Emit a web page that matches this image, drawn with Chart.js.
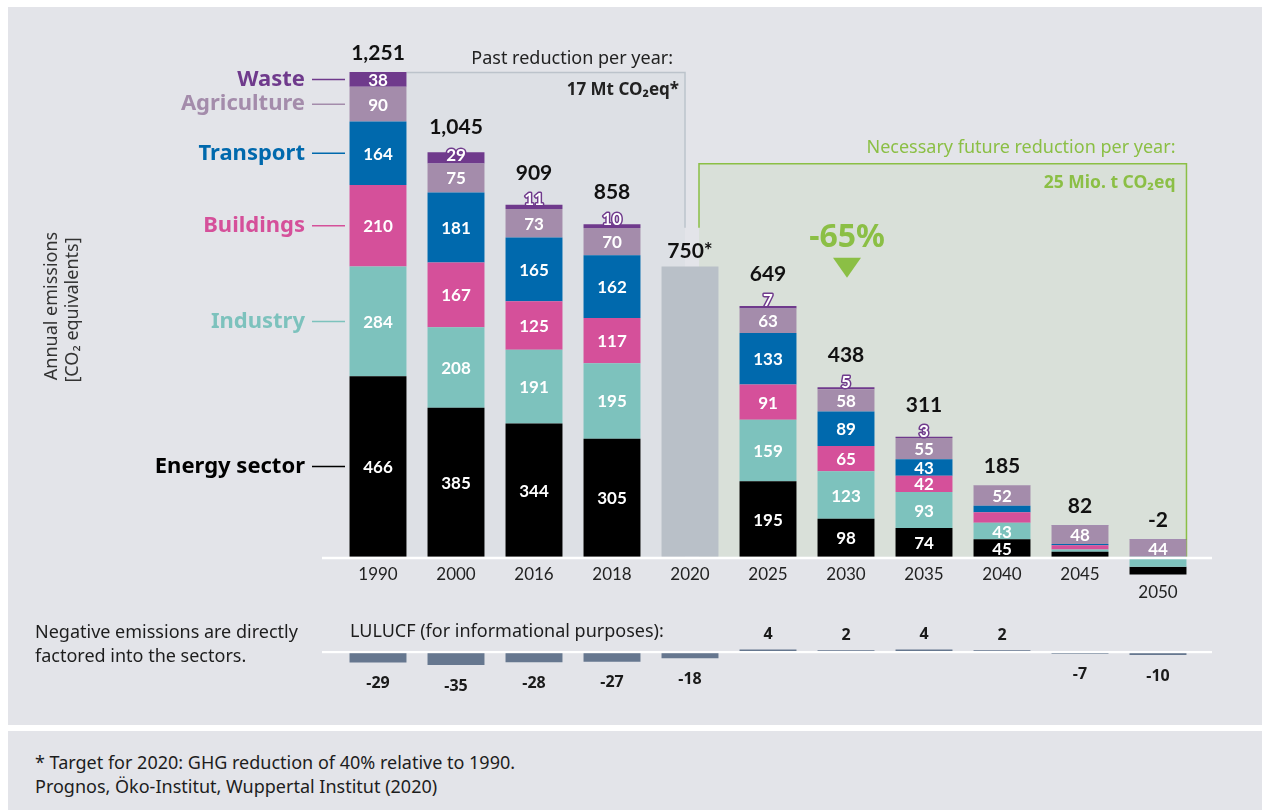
<!DOCTYPE html>
<html>
<head>
<meta charset="utf-8">
<script src="https://cdn.jsdelivr.net/npm/chart.js@4.4.1/dist/chart.umd.min.js"></script>
<style>
body { margin: 0; background: #fff; width: 1262px; height: 810px; overflow: hidden; font-family: "Noto Sans", sans-serif; color: #1d1d1d; }
.panel { position: absolute; left: 8px; right: 0; background: #e3e4e9; }
#mainPanel { top: 7px; height: 718px; }
#footPanel { top: 731px; height: 79px; }
canvas { position: absolute; left: 0; }
.txt { position: absolute; font-size: 18px; line-height: 24px; white-space: nowrap; }
</style>
</head>
<body>
<div class="panel" id="mainPanel"></div>
<div class="panel" id="footPanel"></div>
<canvas id="emissions" width="1262" height="620" style="top:0"></canvas>
<canvas id="lulucf" width="1262" height="110" style="top:600px"></canvas>
<div class="txt" style="left:35px;top:619px">Negative emissions are directly<br>factored into the sectors.</div>
<div class="txt" style="left:350px;top:618px">LULUCF (for informational purposes):</div>
<div class="txt" style="left:35px;top:750px">* Target for 2020: GHG reduction of 40% relative to 1990.<br>Prognos, Öko-Institut, Wuppertal Institut (2020)</div>

<script>
const years = ['1990', '2000', '2016', '2018', '2020', '2025', '2030', '2035', '2040', '2045', '2050'];
const energy      = [466, 385, 344, 305, null, 195, 98, 74, 45, 13, -20];
const industry    = [284, 208, 191, 195, null, 159, 123, 93, 43, 6, -26];
const buildings   = [210, 167, 125, 117, null, 91, 65, 42, 27, 11, 0];
const transport   = [164, 181, 165, 162, null, 133, 89, 43, 17, 3, 0];
const agriculture = [90, 75, 73, 70, null, 63, 58, 55, 52, 48, 44];
const waste       = [38, 29, 11, 10, null, 7, 5, 3, 1, 1, 1];
const target2020  = [null, null, null, null, 750, null, null, null, null, null, null];
const totals      = [1251, 1045, 909, 858, 750, 649, 438, 311, 185, 82, -2];
const lulucf      = [-29, -35, -28, -27, -18, 4, 2, 4, 2, -7, -10];

const GREEN = '#8bbf45';
const FONT = '"Noto Sans", sans-serif';
const NUM = 'Lato, sans-serif';

const sectors = [
    { key: 'energy', label: 'Energy sector', data: energy, color: '#000000' },
    { key: 'industry', label: 'Industry', data: industry, color: '#7dc2bd' },
    { key: 'buildings', label: 'Buildings', data: buildings, color: '#d5509a' },
    { key: 'transport', label: 'Transport', data: transport, color: '#0069ad' },
    { key: 'agriculture', label: 'Agriculture', data: agriculture, color: '#a48cab' },
    { key: 'waste', label: 'Waste', data: waste, color: '#6f3a8c' }
];

// negative parts stack downwards with industry next to the axis, so they go first in reverse order
const datasets = [];
sectors.slice().reverse().forEach(s => datasets.push({
    label: s.label, key: s.key, neg: true,
    data: s.data.map(v => (v !== null && v < 0) ? v : null),
    backgroundColor: s.color
}));
sectors.forEach(s => datasets.push({
    label: s.label, key: s.key,
    data: s.data.map(v => (v !== null && v >= 0) ? v : null),
    backgroundColor: s.color
}));
datasets.push({ label: 'Target 2020', key: 'target', data: target2020, backgroundColor: '#b9c0c8' });

function posMeta(chart, key) {
    const i = chart.data.datasets.findIndex(d => d.key === key && !d.neg);
    return chart.getDatasetMeta(i);
}

const boxesPlugin = {
    id: 'boxes',
    beforeDatasetsDraw(chart) {
        const { ctx, scales: { x, y } } = chart;
        const zero = y.getPixelForValue(0);
        const halfW = posMeta(chart, 'energy').data[0].width / 2;
        const pastL = x.getPixelForValue(0) + halfW;
        const pastTop = y.getPixelForValue(totals[0]);
        const x2020 = x.getPixelForValue(4);
        const pastR = x2020 - 5;
        const futL = x2020 + 9;
        const futR = x.getPixelForValue(10) + halfW;
        const futTop = y.getPixelForValue(1015);
        const lineEnd = y.getPixelForValue(850);

        ctx.save();
        ctx.fillStyle = '#dde0e5';
        ctx.fillRect(pastL, pastTop, pastR - pastL, zero - pastTop);
        ctx.fillStyle = '#d9e0d9';
        ctx.fillRect(futL, futTop, futR - futL, zero - futTop);

        ctx.lineWidth = 1.5;
        ctx.strokeStyle = '#bcc3cb';
        ctx.beginPath();
        ctx.moveTo(pastL, pastTop);
        ctx.lineTo(pastR, pastTop);
        ctx.lineTo(pastR, lineEnd);
        ctx.stroke();

        ctx.strokeStyle = GREEN;
        ctx.beginPath();
        ctx.moveTo(futL, lineEnd);
        ctx.lineTo(futL, futTop);
        ctx.lineTo(futR, futTop);
        ctx.lineTo(futR, zero);
        ctx.stroke();

        // annotation texts
        ctx.textAlign = 'right';
        ctx.textBaseline = 'middle';
        ctx.fillStyle = '#222';
        ctx.font = `18px ${FONT}`;
        ctx.fillText('Past reduction per year:', pastR - 12, pastTop - 14);
        ctx.font = `bold 17px ${FONT}`;
        ctx.fillText('17 Mt CO\u2082eq*', pastR - 6, pastTop + 18);
        ctx.fillStyle = GREEN;
        ctx.font = `18px ${FONT}`;
        ctx.fillText('Necessary future reduction per year:', futR - 11, futTop - 16);
        ctx.font = `bold 17.5px ${FONT}`;
        ctx.fillText('25 Mio. t CO\u2082eq', futR - 11, futTop + 19);

        const xc = x.getPixelForValue(6) + 1;
        ctx.textAlign = 'center';
        ctx.font = `bold 32px ${FONT}`;
        ctx.fillText('-65%', xc, futTop + 74);
        ctx.beginPath();
        ctx.moveTo(xc - 14, futTop + 94);
        ctx.lineTo(xc + 14, futTop + 94);
        ctx.lineTo(xc, futTop + 114);
        ctx.closePath();
        ctx.fill();
        ctx.restore();
    }
};

const labelsPlugin = {
    id: 'labels',
    afterDatasetsDraw(chart) {
        const { ctx, scales: { x, y } } = chart;
        const zero = y.getPixelForValue(0);
        ctx.save();

        // white axis line, just below zero
        ctx.fillStyle = '#ffffff';
        ctx.fillRect(322, zero, 890, 2.5);

        ctx.textAlign = 'center';
        ctx.textBaseline = 'middle';

        // segment values
        const smallWaste = {};
        chart.data.datasets.forEach((ds, i) => {
            if (ds.neg || ds.key === 'target') return;
            chart.getDatasetMeta(i).data.forEach((el, j) => {
                const v = ds.data[j];
                if (v === null || v === 0) return;
                const top = Math.min(el.y, el.base);
                const h = Math.abs(el.base - el.y);
                ctx.font = `bold 17px ${NUM}`;
                if (h >= 14) {
                    ctx.fillStyle = '#ffffff';
                    ctx.fillText(String(v), el.x, top + h / 2 + 1);
                } else if (ds.key === 'waste' && v >= 2) {
                    const cy = h > 9 ? top + h / 2 - 2 : top - 5;
                    smallWaste[j] = h > 9 ? 'mid' : 'above';
                    ctx.lineWidth = 3;
                    ctx.lineJoin = 'round';
                    ctx.strokeStyle = ds.backgroundColor;
                    ctx.strokeText(String(v), el.x, cy);
                    ctx.fillStyle = '#ffffff';
                    ctx.fillText(String(v), el.x, cy);
                }
            });
        });

        // totals above the stacks
        ctx.font = `bold 21px ${NUM}`;
        ctx.fillStyle = '#111';
        years.forEach((yr, j) => {
            let top = zero;
            chart.data.datasets.forEach((ds, i) => {
                if (ds.neg || ds.data[j] === null) return;
                const el = chart.getDatasetMeta(i).data[j];
                top = Math.min(top, el.y);
            });
            let off = 19;
            if (smallWaste[j] === 'above') off = 32;
            else if (smallWaste[j] === 'mid') off = 25;
            else if (j === 4) off = 15;
            const txt = totals[j].toLocaleString('en-US') + (j === 4 ? '*' : '');
            ctx.fillText(txt, x.getPixelForValue(j), top - off);
        });

        // year labels, pushed below negative bars
        ctx.font = `17px ${NUM}`;
        ctx.fillStyle = '#222';
        years.forEach((yr, j) => {
            let bottom = zero;
            chart.data.datasets.forEach((ds, i) => {
                if (!ds.neg || ds.data[j] === null) return;
                bottom = Math.max(bottom, chart.getDatasetMeta(i).data[j].y);
            });
            ctx.fillText(yr, x.getPixelForValue(j), bottom + 18);
        });

        // sector names next to the 1990 bar
        ctx.textAlign = 'right';
        ctx.font = `bold 22px ${FONT}`;
        sectors.forEach(s => {
            const el = posMeta(chart, s.key).data[0];
            const cy = (el.y + el.base) / 2;
            ctx.fillStyle = s.color;
            ctx.fillText(s.label, 305, cy);
            ctx.strokeStyle = s.color;
            ctx.lineWidth = 1.5;
            ctx.beginPath();
            ctx.moveTo(312, cy);
            ctx.lineTo(345, cy);
            ctx.stroke();
        });

        // axis title
        ctx.fillStyle = '#333';
        ctx.font = `18px ${FONT}`;
        ctx.textAlign = 'center';
        ctx.translate(52, 306);
        ctx.rotate(-Math.PI / 2);
        ctx.fillText('Annual emissions', 0, 0);
        ctx.fillText('[CO\u2082 equivalents]', -4, 21);
        ctx.restore();
    }
};

new Chart(document.getElementById('emissions'), {
    type: 'bar',
    data: { labels: years, datasets: datasets },
    options: {
        responsive: false,
        animation: false,
        layout: { padding: { left: 339, right: 65, top: 38, bottom: 40 } },
        datasets: { bar: { barPercentage: 0.73, categoryPercentage: 1.0, borderWidth: 0 } },
        plugins: { legend: { display: false }, tooltip: { enabled: false } },
        scales: {
            x: { stacked: true, display: false },
            y: { stacked: true, display: false, min: -60, max: 1340 }
        }
    },
    plugins: [boxesPlugin, labelsPlugin]
});

const lulucfLabels = {
    id: 'lulucfLabels',
    afterDatasetsDraw(chart) {
        const { ctx, scales: { y } } = chart;
        const zero = y.getPixelForValue(0);
        ctx.save();
        ctx.fillStyle = '#ffffff';
        ctx.fillRect(322, zero, 890, 2.2);
        ctx.fillStyle = '#1a1a1a';
        ctx.font = `bold 16px ${FONT}`;
        ctx.textAlign = 'center';
        ctx.textBaseline = 'middle';
        chart.getDatasetMeta(0).data.forEach((el, j) => {
            const v = lulucf[j];
            if (v >= 0) ctx.fillText(String(v), el.x, Math.min(el.y, el.base) - 15);
            else ctx.fillText(String(v), el.x, Math.max(el.y, el.base) + 21);
        });
        ctx.restore();
    }
};

new Chart(document.getElementById('lulucf'), {
    type: 'bar',
    data: { labels: years, datasets: [{ label: 'LULUCF', data: lulucf, backgroundColor: '#66778f', borderWidth: 0 }] },
    options: {
        responsive: false,
        animation: false,
        layout: { padding: { left: 339, right: 65, top: 47, bottom: 41 } },
        datasets: { bar: { barPercentage: 0.73, categoryPercentage: 1.0 } },
        plugins: { legend: { display: false }, tooltip: { enabled: false } },
        scales: {
            x: { display: false },
            y: { display: false, min: -45, max: 10 }
        }
    },
    plugins: [lulucfLabels]
});
</script>
</body>
</html>
